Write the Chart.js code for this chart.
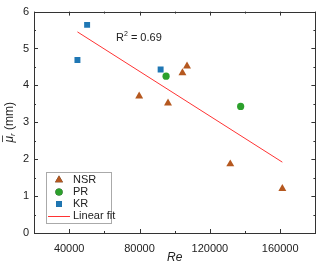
<!DOCTYPE html>
<html><head><meta charset="utf-8">
<script src="https://cdn.jsdelivr.net/npm/chart.js@4/dist/chart.umd.min.js"></script>
<style>html,body{margin:0;padding:0;background:#fff}#wrap{width:320px;height:265px}</style>
</head><body><div id="wrap"><canvas id="c" width="320" height="265"></canvas></div>
<script>
const nsrX = [79800, 96200, 104400, 107000, 131600, 161200];
const nsrY = [3.71, 3.52, 4.34, 4.52, 1.87, 1.20];
const prX = [95100, 137500];
const prY = [4.25, 3.43];
const krX = [44700, 50200, 92000];
const krY = [4.69, 5.64, 4.43];
const fitX = [44700, 161200];
const fitY = [5.45, 1.92];
const xTicks = [40000, 80000, 120000, 160000];
const xMinor = [20000, 60000, 100000, 140000, 180000];
const yTicks = [0, 1, 2, 3, 4, 5, 6];
const yMinor = [0.5, 1.5, 2.5, 3.5, 4.5, 5.5];
const rText = 'R';
const rSup = '2';
const rVal = ' = 0.69';

const pts = (xs, ys) => xs.map((x, i) => ({x: x, y: ys[i]}));
const FONT = '"Liberation Sans", Arial, sans-serif';
const C_NSR = '#B5581F', C_PR = '#2CA02C', C_KR = '#1F77B4', C_FIT = '#FF3333';

const deco = {
  id: 'deco',
  afterDraw(chart) {
    const ctx = chart.ctx, a = chart.chartArea, xs = chart.scales.x, ys = chart.scales.y;
    ctx.save();
    ctx.strokeStyle = '#333'; ctx.lineWidth = 1;
    ctx.strokeRect(Math.round(a.left) + 0.5, Math.round(a.top) + 0.5, Math.round(a.right - a.left), Math.round(a.bottom - a.top));
    ctx.beginPath();
    xTicks.forEach(v => { const p = Math.round(xs.getPixelForValue(v)) + 0.5; ctx.moveTo(p, a.bottom); ctx.lineTo(p, a.bottom - 4); ctx.moveTo(p, a.top); ctx.lineTo(p, a.top + 4); });
    xMinor.forEach(v => { const p = Math.round(xs.getPixelForValue(v)) + 0.5; ctx.moveTo(p, a.bottom); ctx.lineTo(p, a.bottom - 2); ctx.moveTo(p, a.top); ctx.lineTo(p, a.top + 2); });
    yTicks.forEach(v => { const p = Math.round(ys.getPixelForValue(v)) + 0.5; ctx.moveTo(a.left, p); ctx.lineTo(a.left + 4, p); ctx.moveTo(a.right, p); ctx.lineTo(a.right - 4, p); });
    yMinor.forEach(v => { const p = Math.round(ys.getPixelForValue(v)) + 0.5; ctx.moveTo(a.left, p); ctx.lineTo(a.left + 2, p); ctx.moveTo(a.right, p); ctx.lineTo(a.right - 2, p); });
    ctx.stroke();

    // R^2 annotation
    ctx.fillStyle = '#222'; ctx.textBaseline = 'middle'; ctx.textAlign = 'left';
    let tx = 116, ty = 38;
    ctx.font = '11px ' + FONT; ctx.fillText(rText, tx, ty); tx += ctx.measureText(rText).width;
    ctx.font = '7px ' + FONT; ctx.fillText(rSup, tx, ty - 4); tx += ctx.measureText(rSup).width;
    ctx.font = '11px ' + FONT; ctx.fillText(rVal, tx, ty);

    // Legend
    const lx = 46, ly = 172, lw = 65, lh = 51;
    ctx.strokeStyle = '#aaa'; ctx.lineWidth = 1;
    ctx.strokeRect(lx + 0.5, ly + 0.5, lw, lh);
    const items = chart.data.datasets;
    const rowY = [180, 192, 204, 216];
    items.forEach((ds, i) => {
      const y = rowY[i];
      if (ds.showLine) {
        ctx.strokeStyle = ds.borderColor; ctx.lineWidth = 1;
        ctx.beginPath(); ctx.moveTo(48, y + 0.5); ctx.lineTo(70, y + 0.5); ctx.stroke();
      } else {
        Chart.helpers.drawPoint(ctx, {pointStyle: ds.pointStyle, rotation: 0, borderWidth: 0, radius: ds.pointRadius}, 59, y);
        ctx.fillStyle = ds.backgroundColor; ctx.fill();
      }
      ctx.fillStyle = '#222'; ctx.font = '11px ' + FONT; ctx.textAlign = 'left'; ctx.textBaseline = 'middle';
      ctx.fillText(ds.label, 73, y);
    });

    // Axis titles
    ctx.fillStyle = '#222';
    ctx.font = 'italic 12px ' + FONT; ctx.textAlign = 'center'; ctx.textBaseline = 'middle';
    ctx.fillText('Re', (a.left + a.right) / 2, 258);

    ctx.translate(10, (a.top + a.bottom) / 2);
    ctx.rotate(-Math.PI / 2);
    ctx.textAlign = 'left';
    ctx.font = 'italic 12px ' + FONT;
    const mu = 'μ', sub = 'r', rest = ' (mm)';
    const wMu = ctx.measureText(mu).width;
    ctx.font = 'italic 8px ' + FONT; const wSub = ctx.measureText(sub).width;
    ctx.font = '12px ' + FONT; const wRest = ctx.measureText(rest).width;
    let x0 = -(wMu + wSub + wRest) / 2;
    ctx.font = 'italic 12px ' + FONT; ctx.fillText(mu, x0, 0);
    ctx.strokeStyle = '#222'; ctx.lineWidth = 0.8;
    ctx.beginPath(); ctx.moveTo(x0 + 0.5, -7.5); ctx.lineTo(x0 + wMu + 0.5, -7.5); ctx.stroke();
    x0 += wMu;
    ctx.font = 'italic 8px ' + FONT; ctx.fillText(sub, x0, 3); x0 += wSub;
    ctx.font = '12px ' + FONT; ctx.fillText(rest, x0, 0);
    ctx.restore();
  }
};

new Chart(document.getElementById('c'), {
  type: 'scatter',
  data: {
    datasets: [
      {label: 'NSR', data: pts(nsrX, nsrY), pointStyle: 'triangle', pointRadius: 4.6, backgroundColor: C_NSR, borderColor: C_NSR, borderWidth: 0},
      {label: 'PR', data: pts(prX, prY), pointStyle: 'circle', pointRadius: 3.6, backgroundColor: C_PR, borderColor: C_PR, borderWidth: 0},
      {label: 'KR', data: pts(krX, krY), pointStyle: 'rect', pointRadius: 4.2, backgroundColor: C_KR, borderColor: C_KR, borderWidth: 0},
      {label: 'Linear fit', data: pts(fitX, fitY), showLine: true, pointRadius: 0, borderColor: C_FIT, backgroundColor: C_FIT, borderWidth: 1}
    ]
  },
  options: {
    responsive: false, animation: false,
    layout: {padding: {top: 6, right: 2, left: 0, bottom: 0}},
    plugins: {legend: {display: false}, tooltip: {enabled: false}},
    scales: {
      x: {
        type: 'linear', min: 20000, max: 180000,
        afterBuildTicks: s => { s.ticks = xTicks.map(v => ({value: v})); },
        afterFit: s => { s.height = 32; },
        grid: {display: false, drawTicks: false}, border: {display: false},
        ticks: {font: {family: FONT, size: 11}, color: '#222', padding: 9, maxRotation: 0, callback: v => String(v)}
      },
      y: {
        type: 'linear', min: 0, max: 6,
        afterBuildTicks: s => { s.ticks = yTicks.map(v => ({value: v})); },
        afterFit: s => { s.width = 34; },
        grid: {display: false, drawTicks: false}, border: {display: false},
        ticks: {font: {family: FONT, size: 11}, color: '#222', padding: 5}
      }
    }
  },
  plugins: [deco]
});
</script></body></html>
